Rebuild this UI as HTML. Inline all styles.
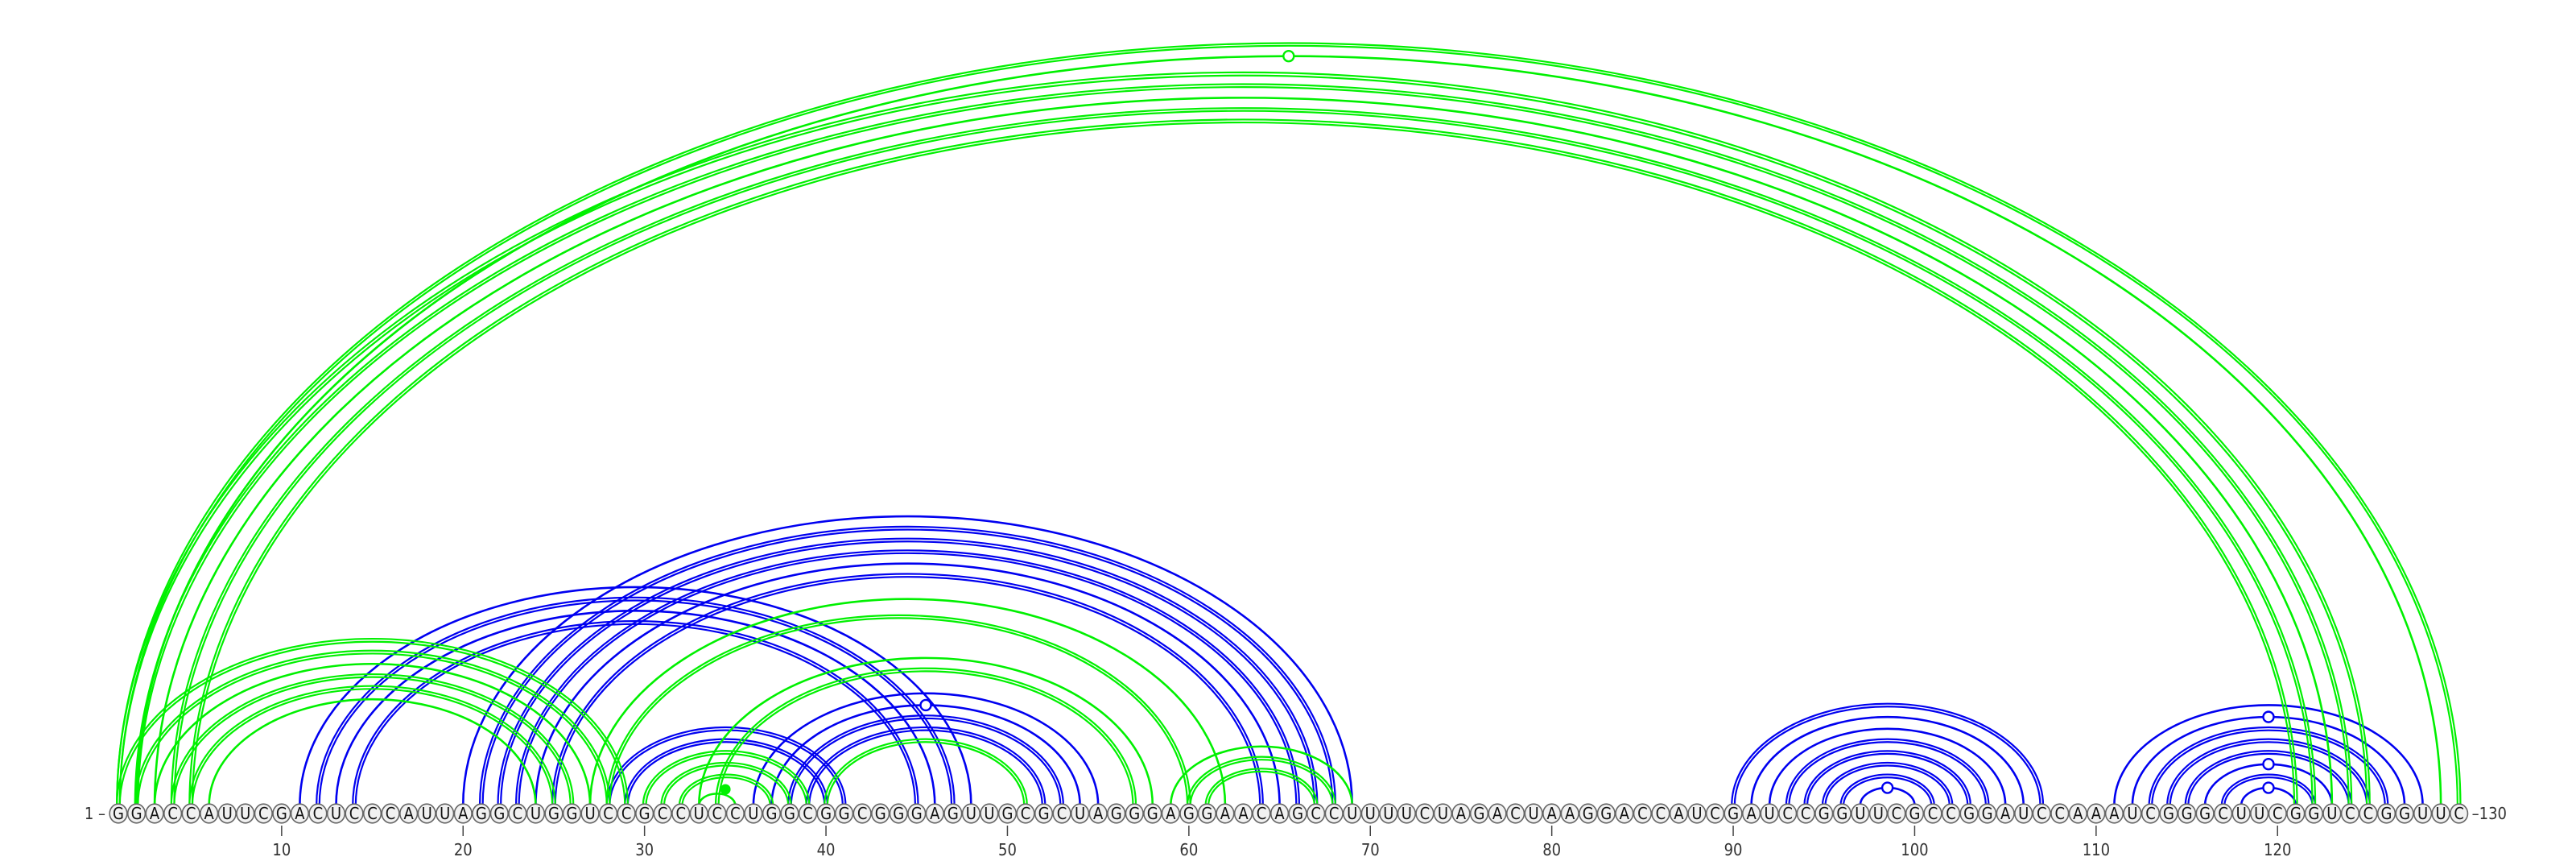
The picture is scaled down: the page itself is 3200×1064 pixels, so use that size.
<!DOCTYPE html>
<html>
<head>
<meta charset="utf-8">
<style>
  html, body { margin: 0; padding: 0; background: #ffffff; }
  svg { display: block; }
  .nt { font-family: "DejaVu Sans Condensed", "DejaVu Sans", "Liberation Sans", sans-serif; font-size: 20px; fill: #111; }
  .tick { font-family: "DejaVu Sans Condensed", "DejaVu Sans", "Liberation Sans", sans-serif; font-size: 20px; fill: #333; }
</style>
</head>
<body>
<svg id="chart" width="3200" height="1064" viewBox="0 0 3200 1064" xmlns="http://www.w3.org/2000/svg">
  <g id="blue-arcs"></g>
  <g id="green-arcs"></g>
  <g id="markers"></g>
  <g id="seq"></g>
  <g id="axis"></g>
</svg>
<script>
// ---- data ----
const sequence = "GGACCAUUCGACUCCCAUUAGGCUGGUCCGCCUCCUGGCGGCGGGAGUUGCGCUAGGGAGGAACAGCCUUUUCUAGACUAAGGACCAUCGAUCCGGUUCGCCGGAUCCAAAUCGGGCUUCGGUCCGGUUC";
const tickPositions = [10,20,30,40,50,60,70,80,90,100,110,120];

const greenI = [1,2,1,2,3,4,5, 1,2,3,4,5,6, 27,28,33,34, 40, 30,31,32,33, 59,60,61];
const greenJ = [130,129,125,124,123,122,121, 29,28,27,26,25,24, 62,60,58,57, 51, 39,38,37,35, 69,68,67];
const greenDouble = [1,0,1,1,0,1,1, 1,1,0,1,1,0, 0,1,0,1, 1, 1,1,1,0, 0,1,1];

const blueI = [11,12,13,14, 20,21,22,23,24,25, 28,29, 36,37,38,39, 90,91,92,93,94,95,96,97, 111,112,113,114,115,116,117,118];
const blueJ = [48,47,46,45, 69,68,67,66,65,64, 41,40, 55,54,53,52, 107,106,105,104,103,102,101,100, 128,127,126,125,124,123,122,121];
const blueDouble = [0,1,0,1, 0,1,1,1,0,1, 1,1, 0,0,1,1, 1,0,0,1,1,1,1,0, 0,0,1,1,1,0,1,0];

const greenMarkerI = [2];
const greenMarkerJ = [129];
const blueMarkerI = [37,97,112,116,118];
const blueMarkerJ = [54,100,127,123,121];
const filledMarkerPos = [34.5];

// ---- scales ----
const X0 = 147, STEP = 22.54, BASE = 1000, RATIO = 0.65, SEQ_Y = 1010;
function xPos(i) { return X0 + (i - 1) * STEP; }
const NS = "http://www.w3.org/2000/svg";
function mk(tag, attrs) { const e = document.createElementNS(NS, tag); for (const k in attrs) e.setAttribute(k, attrs[k]); return e; }

function arcPath(i, j, off) {
  const x1 = xPos(i), x2 = xPos(j);
  const rx = (x2 - x1) / 2 + off;
  const ry = RATIO * ((x2 - x1) / 2) + off;
  return "M" + (x1 - off) + " " + BASE + " A" + rx + " " + ry + " 0 0 1 " + (x2 + off) + " " + BASE;
}

function drawArcs(group, I, J, D, color, label) {
  for (let k = 0; k < I.length; k++) {
    const offs = D[k] ? [-1.8, 1.8] : [0];
    for (const o of offs) {
      const p = mk("path", { d: arcPath(I[k], J[k], o), fill: "none", stroke: color, "stroke-width": D[k] ? 2.2 : 2.6 });
      
      
      group.appendChild(p);
    }
  }
}
drawArcs(document.getElementById("blue-arcs"), blueI, blueJ, blueDouble, "#0000f0", "blue");
drawArcs(document.getElementById("green-arcs"), greenI, greenJ, greenDouble, "#00f000", "green");

// markers
const mg = document.getElementById("markers");
function drawMarker(i, j, color) {
  const cx = (xPos(i) + xPos(j)) / 2;
  const cy = BASE - RATIO * (xPos(j) - xPos(i)) / 2;
  const c = mk("circle", { cx: cx, cy: cy, r: 6.5, fill: "#ffffff", stroke: color, "stroke-width": 2.4 });
  
  
  mg.appendChild(c);
}
for (let k = 0; k < blueMarkerI.length; k++) drawMarker(blueMarkerI[k], blueMarkerJ[k], "#0000f0");
for (let k = 0; k < greenMarkerI.length; k++) drawMarker(greenMarkerI[k], greenMarkerJ[k], "#00f000");
for (const p of filledMarkerPos) {
  const c = mk("circle", { cx: xPos(p) - 1, cy: 980, r: 6.5, fill: "#00f000", stroke: "none" });
  
  
  mg.appendChild(c);
}

// sequence
const sg = document.getElementById("seq");
for (let i = 1; i <= sequence.length; i++) {
  const g = mk("g", {});
  
  
  g.appendChild(mk("ellipse", { cx: xPos(i), cy: SEQ_Y, rx: 10.8, ry: 11.8, fill: "#f1f1f1", stroke: "#666", "stroke-width": 1.6 }));
  const t = mk("text", { x: xPos(i), y: SEQ_Y + 7, "text-anchor": "middle", class: "nt" });
  t.textContent = sequence[i - 1];
  g.appendChild(t);
  sg.appendChild(g);
}

// axis
const ag = document.getElementById("axis");
for (const p of tickPositions) {
  const l = mk("line", { x1: xPos(p), x2: xPos(p), y1: 1025, y2: 1038, stroke: "#444", "stroke-width": 1.5 });
  
  
  ag.appendChild(l);
  const t = mk("text", { x: xPos(p), y: 1062, "text-anchor": "middle", class: "tick" });
  
  
  t.textContent = p;
  ag.appendChild(t);
}
const startLbl = mk("text", { x: xPos(1) - 16, y: SEQ_Y + 7, "text-anchor": "end", class: "tick" });


startLbl.textContent = "1 –";
ag.appendChild(startLbl);
const endLbl = mk("text", { x: xPos(sequence.length) + 16, y: SEQ_Y + 7, "text-anchor": "start", class: "tick" });


endLbl.textContent = "–130";
ag.appendChild(endLbl);
</script>
</body>
</html>
